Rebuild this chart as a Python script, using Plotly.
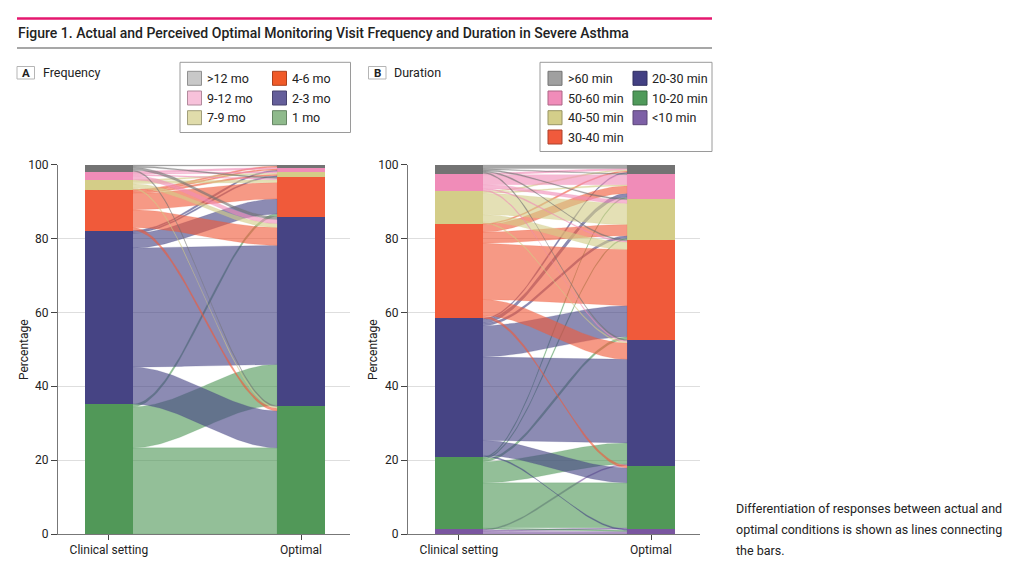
import numpy as np
import plotly.graph_objects as go

W, H = 1036, 577
FONT = "Roboto, DejaVu Sans Condensed, sans-serif"

# ---------------- data ----------------
# categories listed bottom -> top of the stacked bars
freq_cats = ["1 mo", "2-3 mo", "4-6 mo", "7-9 mo", "9-12 mo", ">12 mo"]
# respondents moving from clinical-setting category (rows) to optimal category (cols)
freq_flows = [
    [63, 30, 2, 0, 0, 0],
    [27, 87, 11, 1, 1, 0],
    [2, 13, 12, 1, 1, 1],
    [1, 3, 2, 1, 0, 0],
    [0, 3, 1, 1, 1, 0],
    [1, 2, 1, 0, 0, 1],
]

dur_cats = ["<10 min", "10-20 min", "20-30 min", "30-40 min", "40-50 min", "50-60 min", ">60 min"]
dur_flows = [
    [2, 1, 1, 0, 0, 0, 0],
    [1, 36, 17, 2, 1, 1, 0],
    [1, 12, 67, 25, 2, 3, 1],
    [0, 2, 13, 45, 9, 6, 1],
    [0, 0, 1, 6, 17, 1, 1],
    [0, 0, 1, 1, 3, 8, 1],
    [0, 0, 1, 1, 1, 1, 3],
]

axis_labels = ["Clinical setting", "Optimal"]
y_ticks = [0, 20, 40, 60, 80, 100]
caption_lines = ["Differentiation of responses between actual and",
                 "optimal conditions is shown as lines connecting",
                 "the bars."]

# ---------------- styles ----------------
GREEN = "#519858"
NAVY = "#464484"
RED = "#f05a3a"
KHAKI = "#d4cd88"
PINK = "#f08cb8"
GREY = "#737373"
PURPLE = "#7a56a0"

freq_colors = [GREEN, NAVY, RED, KHAKI, PINK, GREY]
dur_colors = [PURPLE, GREEN, NAVY, RED, KHAKI, PINK, GREY]

freq_legend_colors = {">12 mo": "#c8c8c8", "9-12 mo": "#f7c1da", "7-9 mo": "#e0dcab",
                      "4-6 mo": "#f05a28", "2-3 mo": "#645e9a", "1 mo": "#8fba8c"}
dur_legend_colors = {">60 min": "#a0a0a0", "50-60 min": "#f08cb9", "40-50 min": "#d4ce8a",
                     "30-40 min": "#f05a3c", "20-30 min": "#434083", "10-20 min": "#4f9a5a",
                     "<10 min": "#7d60a6"}


def rgba(hexc, a):
    h = hexc.lstrip("#")
    r, g, b = int(h[0:2], 16), int(h[2:4], 16), int(h[4:6], 16)
    return f"rgba({r},{g},{b},{a})"


def darker(hexc, f=0.72):
    h = hexc.lstrip("#")
    r, g, b = [int(int(h[k:k + 2], 16) * f) for k in (0, 2, 4)]
    return f"rgb({r},{g},{b})"


BAR_W = 0.25
fig = go.Figure()


def add_alluvial(matrix, colors, xa, ya):
    M = np.array(matrix, float)
    P = M / M.sum() * 100.0
    n = len(matrix)
    lt, rt = P.sum(1), P.sum(0)
    lb = np.concatenate([[0], np.cumsum(lt)[:-1]])
    rb = np.concatenate([[0], np.cumsum(rt)[:-1]])
    x0, x1 = 1 + BAR_W / 2, 2 - BAR_W / 2
    t = np.linspace(0, 1, 60)
    s = t * t * (3 - 2 * t)
    xx = x0 + (x1 - x0) * t
    for i in range(n):
        for j in range(n):
            v = P[i, j]
            if v <= 0:
                continue
            yl0 = lb[i] + P[i, :j].sum()
            yr0 = rb[j] + P[:i, j].sum()
            bot = yl0 + (yr0 - yl0) * s
            top = bot + v
            fig.add_trace(go.Scatter(
                x=np.concatenate([xx, xx[::-1]]), y=np.concatenate([bot, top[::-1]]),
                mode="lines", fill="toself", fillcolor=rgba(colors[i], 0.62),
                line=dict(width=0.3, color=rgba(colors[i], 0.6)),
                hoverinfo="skip", showlegend=False, xaxis=xa, yaxis=ya))
    for k in range(n):
        fig.add_trace(go.Bar(x=[1, 2], y=[lt[k], rt[k]], width=BAR_W,
                             marker=dict(color=colors[k], line=dict(width=0)),
                             hoverinfo="skip", showlegend=False, xaxis=xa, yaxis=ya))


add_alluvial(freq_flows, freq_colors, "x", "y")
add_alluvial(dur_flows, dur_colors, "x2", "y2")


def px(xp):
    return xp / W


def py(yp):
    return 1 - yp / H


ydom = [py(534), py(164.7)]
axis_common = dict(tickfont=dict(family=FONT, size=12, color="#222"), automargin=False)
xcommon = dict(range=[0.735, 2.255], tickvals=[1, 2], ticktext=axis_labels, ticks="outside",
               ticklen=5, tickcolor="#444", showline=True, linecolor="#777", linewidth=1,
               showgrid=False, zeroline=False, fixedrange=True, **axis_common)
ycommon = dict(range=[0, 100], tickvals=y_ticks, ticks="outside", ticklen=6, tickcolor="#444",
               showline=True, linecolor="#777", linewidth=1, showgrid=True,
               gridcolor="rgba(60,60,60,0.17)", gridwidth=1, zeroline=False,
               layer="above traces", **axis_common)

fig.update_layout(
    width=W, height=H, margin=dict(l=0, r=0, t=0, b=0),
    paper_bgcolor="white", plot_bgcolor="white", barmode="stack", bargap=0,
    showlegend=False,
    xaxis=dict(domain=[px(58), px(350)], anchor="y", **xcommon),
    yaxis=dict(domain=ydom, anchor="x", **ycommon),
    xaxis2=dict(domain=[px(408), px(700)], anchor="y2", **xcommon),
    yaxis2=dict(domain=ydom, anchor="x2", **ycommon),
)

shapes = []
ann = []
# header lines
shapes.append(dict(type="line", xref="paper", yref="paper", x0=px(17), x1=px(712), y0=py(18.5), y1=py(18.5),
                   line=dict(color="#e5186f", width=2.5)))
shapes.append(dict(type="line", xref="paper", yref="paper", x0=px(17), x1=px(712), y0=py(48), y1=py(48),
                   line=dict(color="#8a8a8a", width=1.5)))
ann.append(dict(text="Figure 1. Actual and Perceived Optimal Monitoring Visit Frequency and Duration in Severe Asthma",
                x=px(16), y=py(33), xref="paper", yref="paper", xanchor="left", yanchor="middle",
                showarrow=False, font=dict(family=FONT, size=14, color="#222", weight=500)))

# y-axis titles
for xt in (24, 373):
    ann.append(dict(text="Percentage", x=px(xt), y=py(350), xref="paper", yref="paper",
                    xanchor="center", yanchor="middle", textangle=-90, showarrow=False,
                    font=dict(family=FONT, size=12, color="#222")))

# panel labels
for lx, letter, txt in [(17, "A", "Frequency"), (368.5, "B", "Duration")]:
    shapes.append(dict(type="rect", xref="paper", yref="paper", x0=px(lx), x1=px(lx + 17.5),
                       y0=py(79), y1=py(66.5), line=dict(color="#b5b5b5", width=1), fillcolor="white"))
    ann.append(dict(text=f"<b>{letter}</b>", x=px(lx + 8.75), y=py(73), xref="paper", yref="paper",
                    xanchor="center", yanchor="middle", showarrow=False,
                    font=dict(family=FONT, size=11.5, color="#222")))
    ann.append(dict(text=txt, x=px(lx + 23.5), y=py(72), xref="paper", yref="paper",
                    xanchor="left", yanchor="middle", showarrow=False,
                    font=dict(family=FONT, size=12.5, color="#222")))


def legend(box, cols, colmap, sw_x, txt_x):
    x0, y0, x1, y1 = box
    shapes.append(dict(type="rect", xref="paper", yref="paper", x0=px(x0), x1=px(x1), y0=py(y1), y1=py(y0),
                       line=dict(color="#9a9a9a", width=1), fillcolor="white"))
    rows_y = [78.3, 98, 117.7, 137]
    for c, names in enumerate(cols):
        for r, name in enumerate(names):
            yc = rows_y[r]
            col = colmap[name]
            shapes.append(dict(type="rect", xref="paper", yref="paper", x0=px(sw_x[c]), x1=px(sw_x[c] + 14),
                               y0=py(yc + 7), y1=py(yc - 7), fillcolor=col,
                               line=dict(color=darker(col), width=1)))
            ann.append(dict(text=name, x=px(txt_x[c]), y=py(yc), xref="paper", yref="paper",
                            xanchor="left", yanchor="middle", showarrow=False,
                            font=dict(family=FONT, size=12.5, color="#222")))


legend((180, 62.3, 350.5, 132.5), [[">12 mo", "9-12 mo", "7-9 mo"], ["4-6 mo", "2-3 mo", "1 mo"]],
       freq_legend_colors, [187.5, 272.5], [204.5, 289.5])
legend((540, 62.3, 712, 151.5), [[">60 min", "50-60 min", "40-50 min", "30-40 min"],
                                  ["20-30 min", "10-20 min", "<10 min"]],
       dur_legend_colors, [548, 633], [565.5, 649.5])

for k, line in enumerate(caption_lines):
    ann.append(dict(text=line, x=px(734), y=py(508.5 + 21 * k), xref="paper", yref="paper",
                    xanchor="left", yanchor="middle", align="left", showarrow=False,
                    font=dict(family=FONT, size=12.5, color="#222")))

fig.update_layout(shapes=shapes, annotations=ann)
fig.write_html("out.html")
